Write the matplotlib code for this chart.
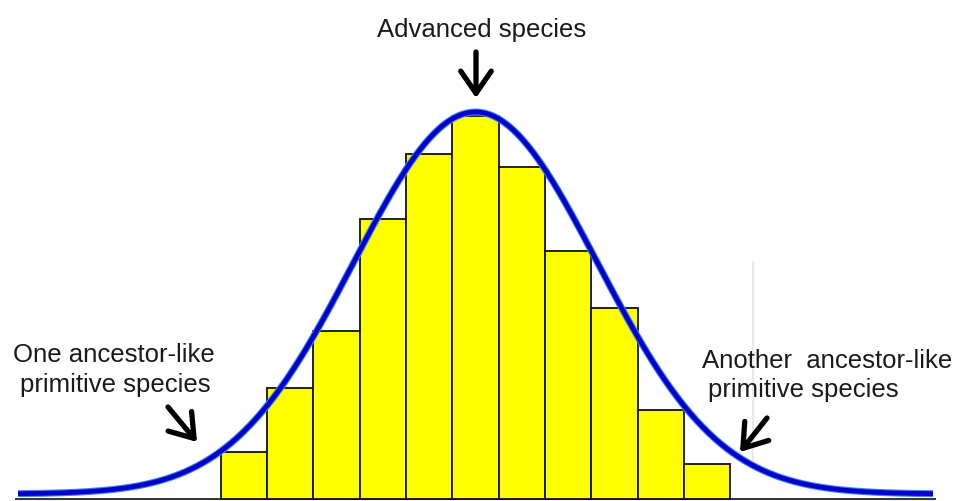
import numpy as np
import matplotlib
matplotlib.use('Agg')
import matplotlib.pyplot as plt

# bar heights (baseline = 0)
bins = list(range(11))
heights = [47, 111, 168, 280, 345, 383, 332, 248, 191, 89, 35]

# bell curve drawn over the bars
curve_mean = 5.0
curve_sigma = 2.63
curve_peak = 382
curve_floor = 5
curve_halfspan = 9.88

labels_top = "Advanced species"
labels_left = ["One ancestor-like", "primitive species"]
labels_right = ["Another  ancestor-like", "primitive species"]

W, H = 964, 501
fig = plt.figure(figsize=(W / 100, H / 100), dpi=100)
ax = fig.add_axes([0, 0, 1, 1])

# pixel mapping: bar i centre at 244 + 46.3*i, baseline at y=499
ax.set_xlim(-244 / 46.3, (W - 244) / 46.3)
ax.set_ylim(-2, 499)
ax.axis('off')

ax.bar(bins, heights, width=1.0, color='#ffff00', edgecolor='#111111',
       linewidth=1.3, zorder=2)

x = np.linspace(curve_mean - curve_halfspan, curve_mean + curve_halfspan, 600)
y = curve_floor + curve_peak * np.exp(-(x - curve_mean) ** 2 / (2 * curve_sigma ** 2))
ax.plot(x, y, color='#3b82f0', lw=5.0, solid_capstyle='butt', zorder=3)
ax.plot(x, y, color='#0000cc', lw=3.4, solid_capstyle='butt', zorder=4)

# baseline
ax.plot([-4.92, 14.92], [0, 0], color='#333333', lw=1.4, zorder=1)

# faint scan artefact line
fig.add_artist(plt.Line2D([753 / W, 753 / W], [1 - 262 / H, 1 - 460 / H],
                          color='#e9e9e9', lw=1.5, zorder=0))

font = dict(family=['Liberation Sans', 'DejaVu Sans'], fontsize=18.5, color='#1a1a1a')

def ftext(px, py, s, ha):
    fig.text(px / W, 1 - py / H, s, ha=ha, va='baseline', **font)

ftext(482, 37, labels_top, 'center')
ftext(114, 362, labels_left[0], 'center')
ftext(115, 392, labels_left[1], 'center')
ftext(702, 368, labels_right[0], 'left')
ftext(708, 397, labels_right[1], 'left')

def arrow(tail, tip):
    ax.annotate('', xy=(tip[0] / W, 1 - tip[1] / H), xycoords='figure fraction',
                xytext=(tail[0] / W, 1 - tail[1] / H), textcoords='figure fraction',
                arrowprops=dict(arrowstyle='->,head_length=0.8,head_width=0.55',
                                lw=3.8, color='black', mutation_scale=20,
                                shrinkA=0, shrinkB=0), zorder=5)

arrow((476, 52), (476, 98))
arrow((168, 407), (197, 442))
arrow((767, 418), (740, 452))

fig.savefig('out.png', dpi=100)
